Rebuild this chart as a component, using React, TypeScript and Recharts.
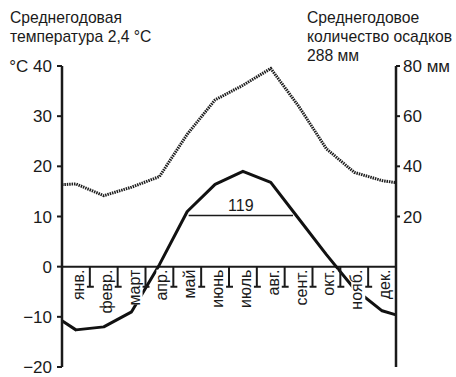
import React from "react"
import { LineChart, Line, XAxis, YAxis, ReferenceLine, ReferenceDot } from "recharts"

const months = ["янв.", "февр.", "март", "апр.", "май", "июнь", "июль", "авг.", "сент.", "окт.", "нояб.", "дек."]
// monthly mean temperature, °C
const temperature = [-12.6, -12, -9, 0.4, 11, 16.4, 19, 16.8, 9.6, 2.4, -4.4, -8.8]
// monthly precipitation, mm
const precipitation = [33, 28.3, 31.7, 35.9, 52.8, 66.5, 72.3, 79, 64, 47, 37.6, 34.3]
// where each curve meets the left / right axis
const edgeTemperature = [-10.8, -9.6]
const edgePrecipitation = [32.7, 33.5]

const tempTicks = [-20, -10, 0, 10, 20, 30, 40]
const precipTicks = [20, 40, 60, 80]

// period above 10 °C (in months from 1 Jan) and its length in days
const warmSpan = [4.55, 8.3]
const warmLevel = 10.2
const warmDays = 119

const FONT = "'Liberation Sans', Arial, sans-serif"
const INK = "#1a1a1a"

const rows = [
  { x: 0, t: edgeTemperature[0], p: edgePrecipitation[0] },
  ...months.map((m, i) => ({ x: i + 0.5, t: temperature[i], p: precipitation[i] })),
  { x: 12, t: edgeTemperature[1], p: edgePrecipitation[1] },
]

function fmtTemp(v: number): string {
  if (v === 40) return "°C 40"
  if (v < 0) return `−${Math.abs(v)}`
  return String(v)
}

function fmtPrecip(v: number): string {
  return v === 80 ? "80 мм" : String(v)
}

function MonthTick(props: any) {
  const { cx, cy } = props
  if (cx == null || cy == null) return null
  return (
    <path
      d={`M${cx},${cy} L${cx},${cy + 20} M${cx - 4},${cy + 20} L${cx + 4},${cy + 20}`}
      stroke={INK}
      strokeWidth={2}
      fill="none"
    />
  )
}

function MonthLabel(props: any) {
  const { cx, cy, text } = props
  if (cx == null || cy == null) return null
  const len = text.length * 8.2
  return (
    <g>
      <rect x={cx - 3} y={cy + 3} width={14} height={len + 2} fill="#fff" />
      <text
        transform={`translate(${cx + 8}, ${cy + 3}) rotate(-90)`}
        textAnchor="end"
        fontSize={16}
        fontFamily={FONT}
        fill={INK}
      >
        {text}
      </text>
    </g>
  )
}

export default function App() {
  const titleStyle = { position: "absolute" as const, top: 8, fontFamily: FONT, fontSize: 15.7, lineHeight: "19px", color: INK }
  return (
    <div style={{ position: "absolute", left: 0, top: 0, width: 456, height: 377, background: "#fff" }}>
      <div style={{ ...titleStyle, left: 10 }}>
        Среднегодовая
        <br />
        температура 2,4 °C
      </div>
      <div style={{ ...titleStyle, left: 307 }}>
        Среднегодовое
        <br />
        количество осадков
        <br />
        288 мм
      </div>
      <div style={{ position: "absolute", left: 0, top: 0 }}>
        <LineChart width={456} height={377} data={rows} margin={{ top: 66, right: 0, bottom: 10, left: 0 }}>
          <XAxis type="number" dataKey="x" domain={[0, 12]} hide />
          <YAxis
            yAxisId="t"
            orientation="left"
            width={62}
            domain={[-20, 40]}
            ticks={tempTicks}
            interval={0}
            tickFormatter={fmtTemp}
            tickSize={5}
            tickMargin={5}
            axisLine={{ stroke: INK, strokeWidth: 2.5 }}
            tickLine={{ stroke: INK, strokeWidth: 2 }}
            tick={{ fontSize: 17, fill: INK, fontFamily: FONT }}
          />
          <YAxis
            yAxisId="p"
            orientation="right"
            width={60}
            domain={[-40, 80]}
            ticks={precipTicks}
            interval={0}
            tickFormatter={fmtPrecip}
            tickSize={4}
            tickMargin={3}
            axisLine={{ stroke: INK, strokeWidth: 2.5 }}
            tickLine={{ stroke: INK, strokeWidth: 2 }}
            tick={{ fontSize: 17, fill: INK, fontFamily: FONT, textAnchor: "start" }}
          />
          <ReferenceLine yAxisId="t" y={0} stroke={INK} strokeWidth={2} />
          <Line
            yAxisId="p"
            dataKey="p"
            type="linear"
            stroke="#1e1e1e"
            strokeWidth={3}
            strokeDasharray="1.5 0.9"
            dot={false}
            isAnimationActive={false}
          />
          <Line
            yAxisId="t"
            dataKey="t"
            type="linear"
            stroke="#111"
            strokeWidth={3}
            strokeLinejoin="round"
            dot={false}
            isAnimationActive={false}
          />
          <ReferenceLine
            yAxisId="t"
            segment={[
              { x: warmSpan[0], y: warmLevel },
              { x: warmSpan[1], y: warmLevel },
            ]}
            stroke={INK}
            strokeWidth={1.5}
            label={{ value: String(warmDays), position: "top", offset: 4, fontSize: 16, fill: INK, fontFamily: FONT }}
          />
          {months.slice(1).map((m, i) => (
            <ReferenceDot
              key={"tick" + m}
              yAxisId="t"
              x={i + 1}
              y={0}
              r={0}
              shape={(p: any) => <MonthTick {...p} />}
            />
          ))}
          {months.map((m, i) => (
            <ReferenceDot
              key={"lab" + m}
              yAxisId="t"
              x={i + 0.5}
              y={0}
              r={0}
              shape={(p: any) => <MonthLabel {...p} text={m} />}
            />
          ))}
        </LineChart>
      </div>
    </div>
  )
}
